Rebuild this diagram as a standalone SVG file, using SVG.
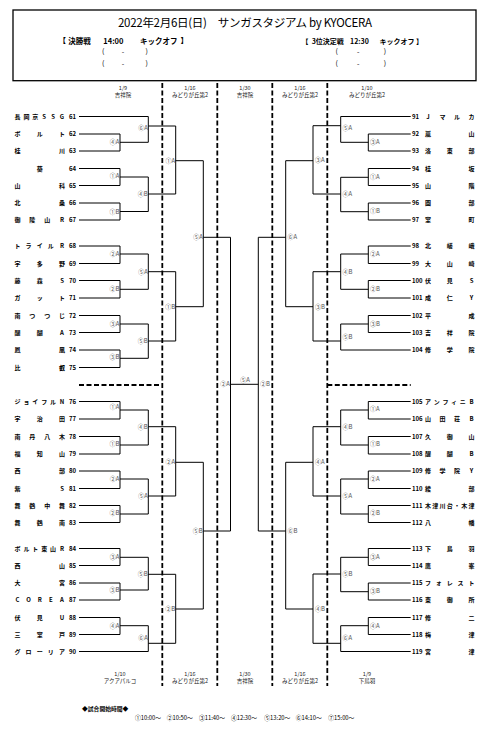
<svg xmlns="http://www.w3.org/2000/svg" width="494" height="742" viewBox="0 0 494 742">
<style>
text{font-family:'Noto Sans CJK JP','Noto Sans',sans-serif}
.tn{font-size:6px;font-weight:bold;fill:#000;text-anchor:middle}
.nl{font-size:6px;font-weight:bold;fill:#000;text-anchor:end}
.nr{font-size:6px;font-weight:bold;fill:#000;text-anchor:start}
.lbl{font-size:6px;fill:#555;text-anchor:end}
.lbr{font-size:6px;fill:#555;text-anchor:start}
.lbc{font-size:6px;fill:#555;text-anchor:middle}
.hd{font-size:5.5px;fill:#222;text-anchor:middle}
.h2{font-size:7.5px;font-weight:bold;fill:#000}
.h2r{font-size:7px;font-weight:bold;fill:#000}
.pr{font-size:7px;fill:#000;text-anchor:middle}
.ln{stroke:#000;stroke-width:1;fill:none}
.dash{stroke:#000;stroke-width:1.8;stroke-dasharray:5 2.5;fill:none}
</style>
<rect width="494" height="742" fill="#fff"/>
<g id="header">
<rect x="13" y="10" width="463" height="70.7" fill="none" stroke="#000" stroke-width="1.3"/>
<text x="245" y="27.3" font-size="11.5" text-anchor="middle" textLength="254" lengthAdjust="spacing">2022年2月6日(日)　サンガスタジアム by KYOCERA</text>
<text class="h2" y="43.5"><tspan x="58.5">【</tspan><tspan x="68.3">決勝戦</tspan><tspan x="103.3">14:00</tspan><tspan x="140">キックオフ</tspan><tspan x="180.5">】</tspan></text>
<text class="h2r" y="43.5"><tspan x="301.5">【</tspan><tspan x="311.7">3位決定戦</tspan><tspan x="350">12:30</tspan><tspan x="379.5">キックオフ</tspan><tspan x="416">】</tspan></text>
<text class="pr" y="54.2"><tspan x="103.3">(</tspan><tspan x="123">-</tspan><tspan x="146.7">)</tspan></text>
<text class="pr" y="65.8"><tspan x="103.3">(</tspan><tspan x="123">-</tspan><tspan x="146.7">)</tspan></text>
<text class="pr" y="54.2"><tspan x="336.7">(</tspan><tspan x="358.3">-</tspan><tspan x="385">)</tspan></text>
<text class="pr" y="65.8"><tspan x="336.7">(</tspan><tspan x="358.3">-</tspan><tspan x="385">)</tspan></text>
</g>
<g id="column-heads">
<text class="hd" x="123" y="90">1/9</text><text class="hd" x="123" y="97">吉祥院</text>
<text class="hd" x="190" y="90">1/16</text><text class="hd" x="190" y="97">みどりが丘第2</text>
<text class="hd" x="245" y="90">1/30</text><text class="hd" x="245" y="97">吉祥院</text>
<text class="hd" x="300" y="90">1/16</text><text class="hd" x="300" y="97">みどりが丘第2</text>
<text class="hd" x="367" y="90">1/10</text><text class="hd" x="367" y="97">みどりが丘第2</text>
<text class="hd" x="120" y="676">1/10</text><text class="hd" x="120" y="683">アクアパルコ</text>
<text class="hd" x="190" y="676">1/16</text><text class="hd" x="190" y="683">みどりが丘第2</text>
<text class="hd" x="245" y="676">1/30</text><text class="hd" x="245" y="683">吉祥院</text>
<text class="hd" x="300" y="676">1/16</text><text class="hd" x="300" y="683">みどりが丘第2</text>
<text class="hd" x="367" y="676">1/9</text><text class="hd" x="367" y="683">下鳥羽</text>
</g>
<g id="dividers">
<path class="dash" d="M162.3 83V686M217.3 83V686M272.3 83V686M327.3 83V686M79 385H162.3M327.3 385H410.7"/>
</g>
<g id="connectors" class="ln">
<path d="M79 116.5H148.3M79 134H120V151H79M120 142.3H148.3M148.3 116.5V142.3M148.3 126H175.7M79 168.5H120V185.5H79M120 177H148.3M79 203H120V220H79M120 211.5H148.3M148.3 177V211.5M148.3 194H175.7M175.7 126V194M175.7 160.7H203.3"/>
<path d="M79 246H120V263.5H79M120 254H148.3M79 280.5H120V298H79M120 289.3H148.3M148.3 254V289.3M148.3 271.7H175.7M79 315.5H120V332.5H79M120 324H148.3M79 350H120V367.5H79M120 358.3H148.3M148.3 324V358.3M148.3 341H175.7M175.7 271.7V341M175.7 306.7H203.3M203.3 160.7V306.7M203.3 237.3H230.5"/>
<path d="M79 401.5H120V419H79M120 410H148.3M79 436.5H120V454H79M120 445H148.3M148.3 410V445M148.3 426.7H175.7M79 471H120V488.5H79M120 479H148.3M79 505.5H120V522.5H79M120 514H148.3M148.3 479V514M148.3 496H175.7M175.7 426.7V496M175.7 462.3H203.3"/>
<path d="M79 548.5H120V565.5H79M120 557.3H148.3M79 583H120V600H79M120 590H148.3M148.3 557.3V590M148.3 574.3H175.7M79 617.5H120V634.5H79M120 625.7H148.3M79 651.5H148.3M148.3 625.7V651.5M148.3 643.3H175.7M175.7 574.3V643.3M175.7 609H203.3M203.3 462.3V609M203.3 531H230.5"/>
<path d="M230.5 237.3V531M230.5 384.3H258.3M258.3 237.3V531"/>
<path d="M410.7 116.5H340.7M410.7 134H368.3V151H410.7M368.3 142.3H340.7M340.7 116.5V142.3M340.7 125.7H313M410.7 168.5H368.3V185.5H410.7M368.3 177.3H340.7M410.7 203H368.3V220H410.7M368.3 211.7H340.7M340.7 177.3V211.7M340.7 194H313M313 125.7V194M313 160.7H285.7"/>
<path d="M410.7 246H368.3V263.5H410.7M368.3 254H340.7M410.7 280.5H368.3V298H410.7M368.3 289.3H340.7M340.7 254V289.3M340.7 271.7H313M410.7 315.5H368.3V332.5H410.7M368.3 324H340.7M410.7 350H340.7M340.7 324V350M340.7 341H313M313 271.7V341M313 306.7H285.7M285.7 160.7V306.7M285.7 237.3H258.3"/>
<path d="M410.7 401.5H368.3V419H410.7M368.3 410H340.7M410.7 436.5H368.3V454H410.7M368.3 445H340.7M340.7 410V445M340.7 426.7H313M410.7 471H368.3V488.5H410.7M368.3 479H340.7M410.7 505.5H368.3V522.5H410.7M368.3 514H340.7M340.7 479V514M340.7 496H313M313 426.7V496M313 462.3H285.7"/>
<path d="M410.7 548.5H368.3V565.5H410.7M368.3 557.3H340.7M410.7 583H368.3V600H410.7M368.3 591.7H340.7M340.7 557.3V591.7M340.7 574H313M410.7 617.5H368.3V634.5H410.7M368.3 625.7H340.7M410.7 651.5H340.7M340.7 625.7V651.5M340.7 643.3H313M313 574V643.3M313 609H285.7M285.7 462.3V609M285.7 531H258.3"/>
</g>
<g id="teams-left">
<g id="t61"><text class="tn" x="17.5 26.4 35.3 44.2 53.1 62" y="118.6">長岡京SSG</text><text class="nl" x="76" y="118.6">61</text></g>
<g id="t62"><text class="tn" x="17.5 39.75 62" y="136.1">ボルト</text><text class="nl" x="76" y="136.1">62</text></g>
<g id="t63"><text class="tn" x="17.5 62" y="153.1">桂川</text><text class="nl" x="76" y="153.1">63</text></g>
<g id="t64"><text class="tn" x="39.75" y="170.6">葵</text><text class="nl" x="76" y="170.6">64</text></g>
<g id="t65"><text class="tn" x="17.5 62" y="187.6">山科</text><text class="nl" x="76" y="187.6">65</text></g>
<g id="t66"><text class="tn" x="17.5 62" y="205.1">北桑</text><text class="nl" x="76" y="205.1">66</text></g>
<g id="t67"><text class="tn" x="17.5 32.33 47.17 62" y="222.1">御陵山R</text><text class="nl" x="76" y="222.1">67</text></g>
<g id="t68"><text class="tn" x="17.5 28.63 39.75 50.88 62" y="248.1">トライルR</text><text class="nl" x="76" y="248.1">68</text></g>
<g id="t69"><text class="tn" x="17.5 39.75 62" y="265.6">宇多野</text><text class="nl" x="76" y="265.6">69</text></g>
<g id="t70"><text class="tn" x="17.5 39.75 62" y="282.6">藤森S</text><text class="nl" x="76" y="282.6">70</text></g>
<g id="t71"><text class="tn" x="17.5 39.75 62" y="300.1">ガット</text><text class="nl" x="76" y="300.1">71</text></g>
<g id="t72"><text class="tn" x="17.5 32.33 47.17 62" y="317.6">南つつじ</text><text class="nl" x="76" y="317.6">72</text></g>
<g id="t73"><text class="tn" x="17.5 39.75 62" y="334.6">醍醐A</text><text class="nl" x="76" y="334.6">73</text></g>
<g id="t74"><text class="tn" x="17.5 62" y="352.1">鳳凰</text><text class="nl" x="76" y="352.1">74</text></g>
<g id="t75"><text class="tn" x="17.5 62" y="369.6">比叡</text><text class="nl" x="76" y="369.6">75</text></g>
<g id="t76"><text class="tn" x="17.5 26.4 35.3 44.2 53.1 62" y="403.6">ジョイフルN</text><text class="nl" x="76" y="403.6">76</text></g>
<g id="t77"><text class="tn" x="17.5 39.75 62" y="421.1">宇治田</text><text class="nl" x="76" y="421.1">77</text></g>
<g id="t78"><text class="tn" x="17.5 32.33 47.17 62" y="438.6">南丹八木</text><text class="nl" x="76" y="438.6">78</text></g>
<g id="t79"><text class="tn" x="17.5 39.75 62" y="456.1">福知山</text><text class="nl" x="76" y="456.1">79</text></g>
<g id="t80"><text class="tn" x="17.5 62" y="473.1">西部</text><text class="nl" x="76" y="473.1">80</text></g>
<g id="t81"><text class="tn" x="17.5 62" y="490.6">紫S</text><text class="nl" x="76" y="490.6">81</text></g>
<g id="t82"><text class="tn" x="17.5 32.33 47.17 62" y="507.6">舞鶴中舞</text><text class="nl" x="76" y="507.6">82</text></g>
<g id="t83"><text class="tn" x="17.5 39.75 62" y="524.6">舞鶴南</text><text class="nl" x="76" y="524.6">83</text></g>
<g id="t84"><text class="tn" x="17.5 26.4 35.3 44.2 53.1 62" y="550.6">ボルト東山R</text><text class="nl" x="76" y="550.6">84</text></g>
<g id="t85"><text class="tn" x="17.5 62" y="567.6">西山</text><text class="nl" x="76" y="567.6">85</text></g>
<g id="t86"><text class="tn" x="17.5 62" y="585.1">大宮</text><text class="nl" x="76" y="585.1">86</text></g>
<g id="t87"><text class="tn" x="17.5 28.63 39.75 50.88 62" y="602.1">COREA</text><text class="nl" x="76" y="602.1">87</text></g>
<g id="t88"><text class="tn" x="17.5 39.75 62" y="619.6">伏見U</text><text class="nl" x="76" y="619.6">88</text></g>
<g id="t89"><text class="tn" x="17.5 39.75 62" y="636.6">三室戸</text><text class="nl" x="76" y="636.6">89</text></g>
<g id="t90"><text class="tn" x="17.5 28.63 39.75 50.88 62" y="653.6">グローリア</text><text class="nl" x="76" y="653.6">90</text></g>
</g>
<g id="teams-right">
<g id="t91"><text class="nr" x="412" y="118.6">91</text><text class="tn" x="428 442.5 457 471.5" y="118.6">Jマルカ</text></g>
<g id="t92"><text class="nr" x="412" y="136.1">92</text><text class="tn" x="428 471.5" y="136.1">嵐山</text></g>
<g id="t93"><text class="nr" x="412" y="153.1">93</text><text class="tn" x="428 449.75 471.5" y="153.1">洛東部</text></g>
<g id="t94"><text class="nr" x="412" y="170.6">94</text><text class="tn" x="428 471.5" y="170.6">桂坂</text></g>
<g id="t95"><text class="nr" x="412" y="187.6">95</text><text class="tn" x="428 471.5" y="187.6">山階</text></g>
<g id="t96"><text class="nr" x="412" y="205.1">96</text><text class="tn" x="428 471.5" y="205.1">園部</text></g>
<g id="t97"><text class="nr" x="412" y="222.1">97</text><text class="tn" x="428 471.5" y="222.1">室町</text></g>
<g id="t98"><text class="nr" x="412" y="248.1">98</text><text class="tn" x="428 449.75 471.5" y="248.1">北嵯峨</text></g>
<g id="t99"><text class="nr" x="412" y="265.6">99</text><text class="tn" x="428 449.75 471.5" y="265.6">大山崎</text></g>
<g id="t100"><text class="nr" x="412" y="282.6">100</text><text class="tn" x="428 449.75 471.5" y="282.6">伏見S</text></g>
<g id="t101"><text class="nr" x="412" y="300.1">101</text><text class="tn" x="428 449.75 471.5" y="300.1">成仁Y</text></g>
<g id="t102"><text class="nr" x="412" y="317.6">102</text><text class="tn" x="428 471.5" y="317.6">平成</text></g>
<g id="t103"><text class="nr" x="412" y="334.6">103</text><text class="tn" x="428 449.75 471.5" y="334.6">吉祥院</text></g>
<g id="t104"><text class="nr" x="412" y="352.1">104</text><text class="tn" x="428 449.75 471.5" y="352.1">修学院</text></g>
<g id="t105"><text class="nr" x="412" y="403.6">105</text><text class="tn" x="428 436.7 445.4 454.1 462.8 471.5" y="403.6">アンフィニB</text></g>
<g id="t106"><text class="nr" x="412" y="421.1">106</text><text class="tn" x="428 442.5 457 471.5" y="421.1">山田荘B</text></g>
<g id="t107"><text class="nr" x="412" y="438.6">107</text><text class="tn" x="428 449.75 471.5" y="438.6">久御山</text></g>
<g id="t108"><text class="nr" x="412" y="456.1">108</text><text class="tn" x="428 449.75 471.5" y="456.1">醍醐B</text></g>
<g id="t109"><text class="nr" x="412" y="473.1">109</text><text class="tn" x="428 442.5 457 471.5" y="473.1">修学院Y</text></g>
<g id="t110"><text class="nr" x="412" y="490.6">110</text><text class="tn" x="428 471.5" y="490.6">綾部</text></g>
<g id="t111"><text class="nr" x="412" y="507.6">111</text><text class="tn" x="428 435.25 442.5 449.75 457 464.25 471.5" y="507.6">木津川台・木津</text></g>
<g id="t112"><text class="nr" x="412" y="524.6">112</text><text class="tn" x="428 471.5" y="524.6">八幡</text></g>
<g id="t113"><text class="nr" x="412" y="550.6">113</text><text class="tn" x="428 449.75 471.5" y="550.6">下鳥羽</text></g>
<g id="t114"><text class="nr" x="412" y="567.6">114</text><text class="tn" x="428 471.5" y="567.6">鷹峯</text></g>
<g id="t115"><text class="nr" x="412" y="585.1">115</text><text class="tn" x="428 438.88 449.75 460.63 471.5" y="585.1">フォレスト</text></g>
<g id="t116"><text class="nr" x="412" y="602.1">116</text><text class="tn" x="428 449.75 471.5" y="602.1">東御所</text></g>
<g id="t117"><text class="nr" x="412" y="619.6">117</text><text class="tn" x="428 471.5" y="619.6">修二</text></g>
<g id="t118"><text class="nr" x="412" y="636.6">118</text><text class="tn" x="428 471.5" y="636.6">梅津</text></g>
<g id="t119"><text class="nr" x="412" y="653.6">119</text><text class="tn" x="428 471.5" y="653.6">宮津</text></g>
</g>
<g id="match-labels-left">
<text class="lbl" x="119.5" y="144.4">④A</text>
<text class="lbl" x="119.5" y="177.8">①A</text>
<text class="lbl" x="119.5" y="213.8">①B</text>
<text class="lbl" x="147.8" y="130.4">⑥A</text>
<text class="lbl" x="147.8" y="196.1">④B</text>
<text class="lbl" x="175.2" y="162.8">①A</text>
<text class="lbl" x="119.5" y="256.1">②A</text>
<text class="lbl" x="119.5" y="291.4">②B</text>
<text class="lbl" x="119.5" y="326.1">③A</text>
<text class="lbl" x="119.5" y="359.1">③B</text>
<text class="lbl" x="147.8" y="273.8">⑤A</text>
<text class="lbl" x="147.8" y="343.1">⑤B</text>
<text class="lbl" x="175.2" y="308.8">①B</text>
<text class="lbl" x="202.8" y="239.4">⑤A</text>
<text class="lbl" x="119.5" y="408.8">①A</text>
<text class="lbl" x="119.5" y="446.4">①B</text>
<text class="lbl" x="119.5" y="481.1">②A</text>
<text class="lbl" x="119.5" y="515.4">②B</text>
<text class="lbl" x="147.8" y="428.8">④B</text>
<text class="lbl" x="147.8" y="498.1">⑤A</text>
<text class="lbl" x="175.2" y="464.4">②A</text>
<text class="lbl" x="119.5" y="559.4">③A</text>
<text class="lbl" x="119.5" y="592.1">③B</text>
<text class="lbl" x="119.5" y="627.8">④A</text>
<text class="lbl" x="147.8" y="576.4">⑤B</text>
<text class="lbl" x="147.8" y="640.4">⑥A</text>
<text class="lbl" x="175.2" y="611.1">②B</text>
<text class="lbl" x="202.8" y="533.1">⑤B</text>
</g>
<g id="match-labels-center">
<text class="lbl" x="230" y="386.4">②A</text>
<text class="lbc" x="245" y="382.1">⑤A</text>
<text class="lbr" x="260" y="386.4">②B</text>
</g>
<g id="match-labels-right">
<text class="lbr" x="370" y="144.4">③A</text>
<text class="lbr" x="370" y="178.8">①A</text>
<text class="lbr" x="370" y="213.1">①B</text>
<text class="lbr" x="342.5" y="130.4">⑤A</text>
<text class="lbr" x="342.5" y="196.1">④A</text>
<text class="lbr" x="315" y="162.1">③A</text>
<text class="lbr" x="370" y="256.1">②A</text>
<text class="lbr" x="370" y="291.4">②B</text>
<text class="lbr" x="370" y="326.1">③B</text>
<text class="lbr" x="342.5" y="273.8">④B</text>
<text class="lbr" x="342.5" y="338.8">⑤B</text>
<text class="lbr" x="315" y="308.8">③B</text>
<text class="lbr" x="287.5" y="239.4">⑥A</text>
<text class="lbr" x="370" y="411.1">①A</text>
<text class="lbr" x="370" y="446.4">①B</text>
<text class="lbr" x="370" y="481.1">②A</text>
<text class="lbr" x="370" y="515.4">②B</text>
<text class="lbr" x="342.5" y="428.8">④B</text>
<text class="lbr" x="342.5" y="498.1">⑤A</text>
<text class="lbr" x="315" y="464.4">④A</text>
<text class="lbr" x="370" y="558.8">③A</text>
<text class="lbr" x="370" y="593.1">③B</text>
<text class="lbr" x="370" y="627.8">④A</text>
<text class="lbr" x="342.5" y="576.1">⑤B</text>
<text class="lbr" x="342.5" y="640.4">⑥A</text>
<text class="lbr" x="315" y="611.1">④B</text>
<text class="lbr" x="287.5" y="533.1">⑥B</text>
</g>
<g id="schedule">
<text x="82" y="711" font-size="5.8" font-weight="bold">◆試合開始時間◆</text>
<text y="720.3" font-size="5.8"><tspan x="135">①10:00～</tspan><tspan x="166.7">②10:50～</tspan><tspan x="199">③11:40～</tspan><tspan x="231">④12:30～</tspan><tspan x="264.3">⑤13:20～</tspan><tspan x="295.7">⑥14:10～</tspan><tspan x="328.3">⑦15:00～</tspan></text>
</g>
</svg>
